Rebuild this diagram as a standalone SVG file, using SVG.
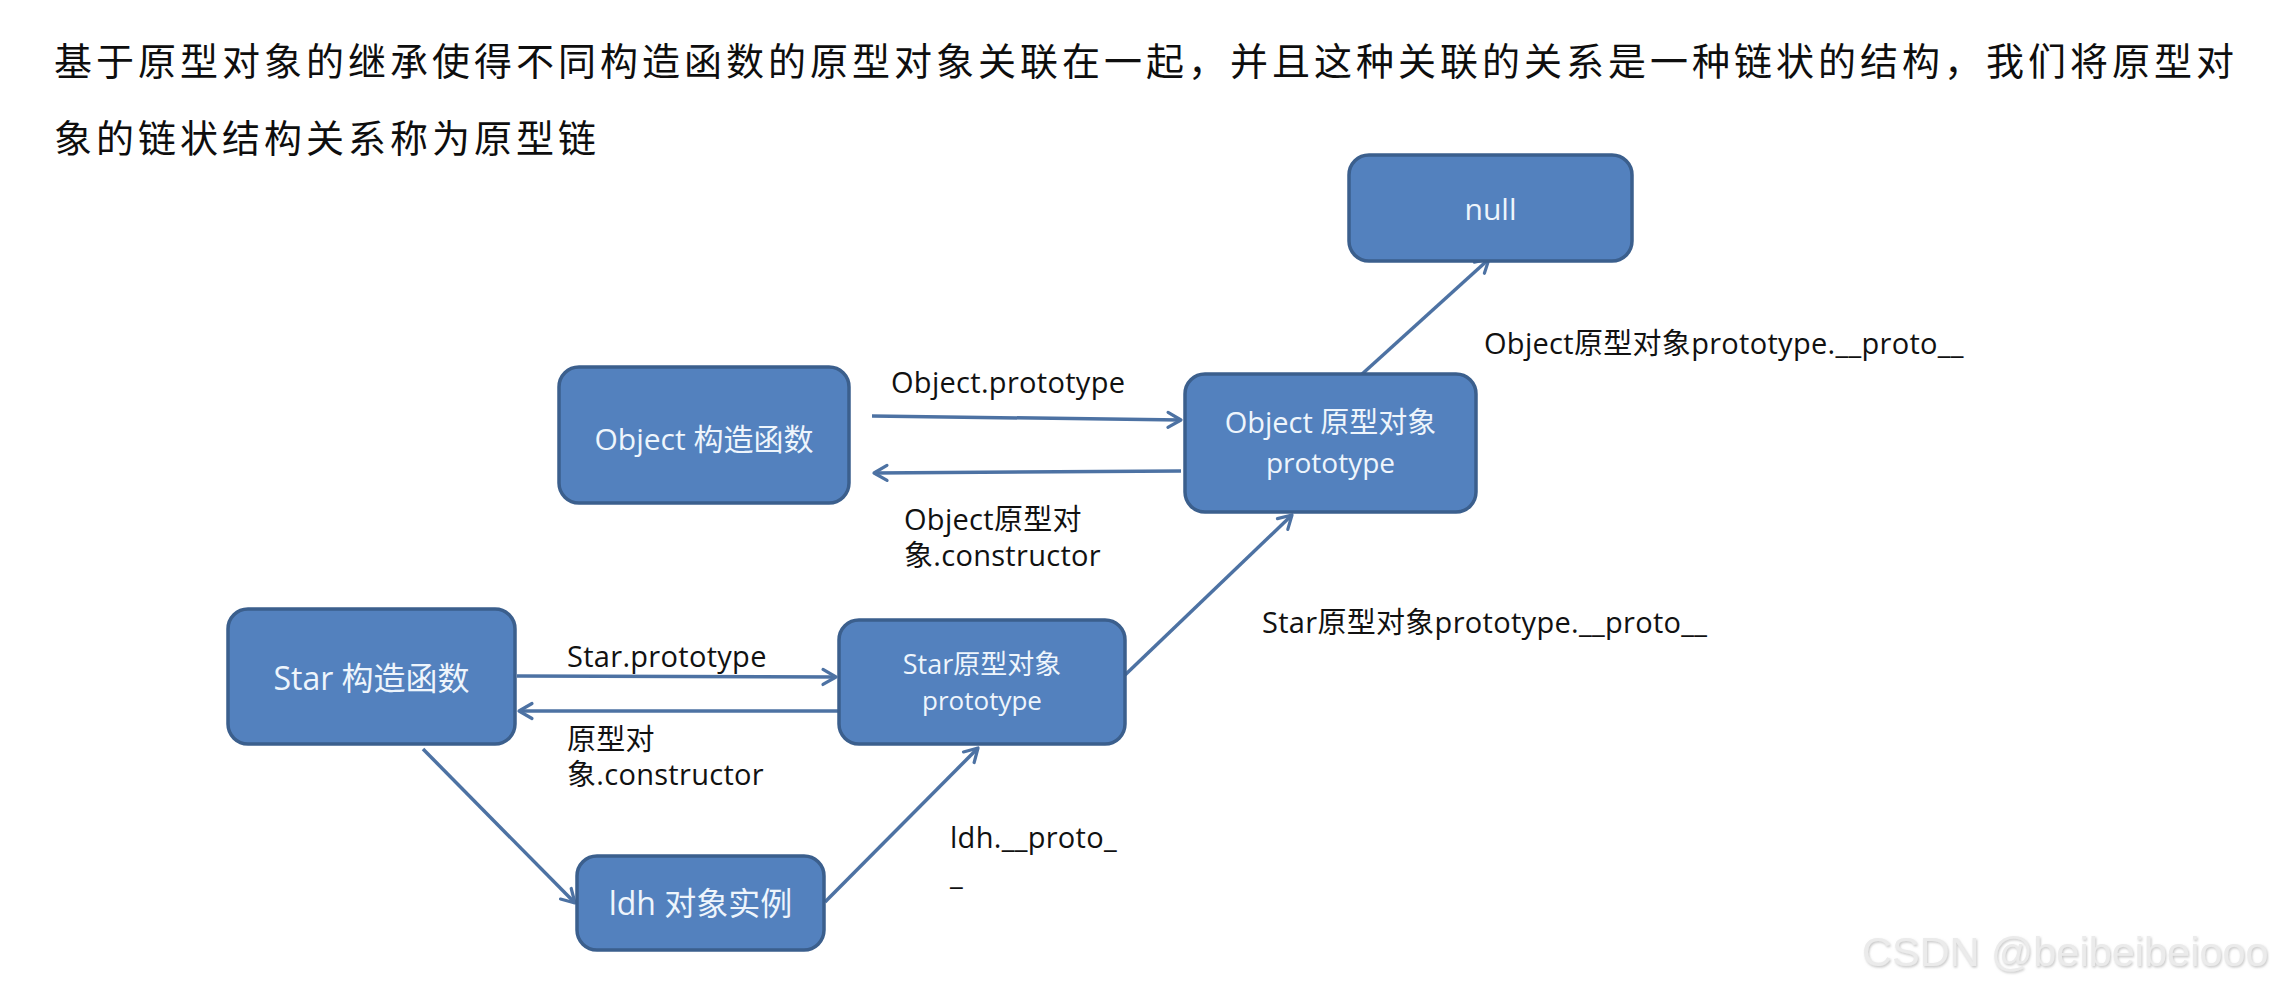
<svg xmlns="http://www.w3.org/2000/svg" width="2275" height="990" viewBox="0 0 2275 990">
<defs>
<style>
.title{font-family:"Noto Sans CJK SC","Noto Sans",sans-serif;font-size:38px;letter-spacing:4px;fill:#0e0e0e}
.box{fill:#5381be;stroke:#3b5f8d;stroke-width:3.5}
.nt{font-family:"Open Sans","Noto Sans CJK SC",sans-serif;fill:#eef5fc;text-anchor:middle}
.lbl{font-family:"Open Sans","Noto Sans CJK SC",sans-serif;font-size:29px;letter-spacing:0.3px;fill:#111}
.edge{stroke:#4d72a3;stroke-width:3.5;fill:none;marker-end:url(#arr)}
.wm{font-family:"Liberation Sans",Arial,sans-serif;font-size:41.5px;fill:#ebebeb}
</style>
<marker id="arr" viewBox="0 0 20 20" refX="17" refY="10" markerWidth="20" markerHeight="20" markerUnits="userSpaceOnUse" orient="auto">
<path d="M4,2.5 L17,10 L4,17.5" fill="none" stroke="#4d72a3" stroke-width="3.2" stroke-linecap="round" stroke-linejoin="round"/>
</marker>
<filter id="emb" x="-5%" y="-20%" width="110%" height="140%">
<feDropShadow dx="1" dy="1.5" stdDeviation="0.8" flood-color="#9a9a9a" flood-opacity="0.55"/>
</filter>
</defs>
<rect width="2275" height="990" fill="#ffffff"/>

<g id="title">
<text class="title" x="54" y="75">基于原型对象的继承使得不同构造函数的原型对象关联在一起，并且这种关联的关系是一种链状的结构，我们将原型对</text>
<text class="title" x="54" y="152">象的链状结构关系称为原型链</text>
</g>

<g id="connectors">
<line class="edge" x1="872" y1="416" x2="1181" y2="420"/>
<line class="edge" x1="1181" y1="471" x2="874" y2="473"/>
<line class="edge" x1="517" y1="676" x2="836" y2="677"/>
<line class="edge" x1="838" y1="711" x2="519" y2="711"/>
<line class="edge" x1="423" y1="749" x2="575" y2="903"/>
<line class="edge" x1="825" y1="902" x2="978" y2="748"/>
<line class="edge" x1="1125" y1="675" x2="1292" y2="515"/>
<line class="edge" x1="1361" y1="375" x2="1489" y2="259"/>
<text class="lbl" x="891" y="393">Object.prototype</text>
<text class="lbl" x="904" y="530">Object原型对</text>
<text class="lbl" x="904" y="566">象.constructor</text>
<text class="lbl" x="567" y="667">Star.prototype</text>
<text class="lbl" x="567" y="750">原型对</text>
<text class="lbl" x="567" y="785">象.constructor</text>
<text class="lbl" x="950" y="848">ldh.__proto_</text>
<text class="lbl" x="950" y="885">_</text>
<text class="lbl" x="1262" y="633">Star原型对象prototype.__proto__</text>
<text class="lbl" x="1484" y="354">Object原型对象prototype.__proto__</text>
</g>

<g id="node-null">
<rect class="box" x="1349" y="155" width="283" height="106" rx="20"/>
<text class="nt" x="1490.5" y="220" font-size="30">null</text>
</g>

<g id="node-object-ctor">
<rect class="box" x="559" y="367" width="290" height="136" rx="20"/>
<text class="nt" x="704" y="450" font-size="30">Object 构造函数</text>
</g>

<g id="node-object-proto">
<rect class="box" x="1185" y="374" width="291" height="138" rx="20"/>
<text class="nt" x="1330.5" y="433" font-size="29">Object 原型对象</text>
<text class="nt" x="1330.5" y="473" font-size="28">prototype</text>
</g>

<g id="node-star-ctor">
<rect class="box" x="228" y="609" width="287" height="135" rx="20"/>
<text class="nt" x="371.5" y="690" font-size="32">Star 构造函数</text>
</g>

<g id="node-star-proto">
<rect class="box" x="839" y="620" width="286" height="124" rx="20"/>
<text class="nt" x="982" y="674" font-size="27">Star原型对象</text>
<text class="nt" x="982" y="710" font-size="26">prototype</text>
</g>

<g id="node-ldh">
<rect class="box" x="577" y="856" width="247" height="94" rx="20"/>
<text class="nt" x="700.5" y="915" font-size="32">ldh 对象实例</text>
</g>

<g id="watermark">
<text class="wm" x="1862" y="966" filter="url(#emb)">CSDN @beibeibeiooo</text>
</g>
</svg>
